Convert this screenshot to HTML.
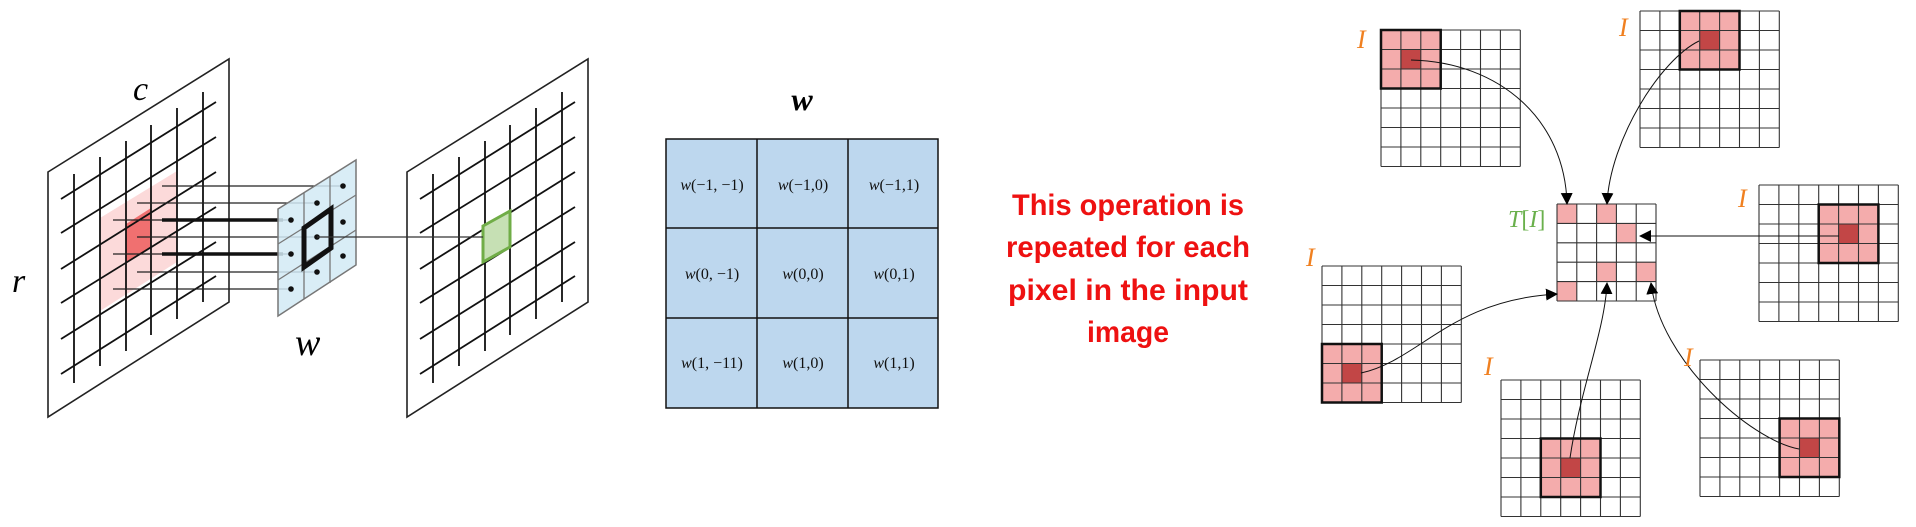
<!DOCTYPE html>
<html><head><meta charset="utf-8"><style>
html,body{margin:0;padding:0;background:#fff;width:1916px;height:527px;overflow:hidden}
svg{display:block}
</style></head><body>
<svg id="s" width="1916" height="527" viewBox="0 0 1916 527" xmlns="http://www.w3.org/2000/svg">
<defs><marker id="ah" markerWidth="12" markerHeight="12" refX="11" refY="6" orient="auto" markerUnits="userSpaceOnUse"><path d="M0,0 L12,6 L0,12 z" fill="#000"/></marker></defs>
<g id="g"></g>
<text x="133" y="100" font-family="Liberation Serif, serif" font-style="italic" font-size="34">c</text>
<text x="12" y="292" font-family="Liberation Serif, serif" font-style="italic" font-size="34">r</text>
<text x="295" y="355" font-family="Liberation Serif, serif" font-style="italic" font-size="38">w</text>
<text x="802" y="110" text-anchor="middle" font-family="Liberation Serif, serif" font-style="italic" font-weight="bold" font-size="32">w</text>
<g font-family="Liberation Sans Narrow, Liberation Sans, sans-serif" font-weight="bold" font-size="30" fill="#ee1111" text-anchor="middle">
<text x="1128" y="215" textLength="232" lengthAdjust="spacingAndGlyphs">This operation is</text>
<text x="1128" y="257" textLength="244" lengthAdjust="spacingAndGlyphs">repeated for each</text>
<text x="1128" y="300" textLength="240" lengthAdjust="spacingAndGlyphs">pixel in the input</text>
<text x="1128" y="342" textLength="82" lengthAdjust="spacingAndGlyphs">image</text>
</g>
<g font-family="Liberation Serif, serif" font-style="italic" font-size="26" fill="#f08020">
<text x="1357" y="48">I</text><text x="1619" y="36">I</text><text x="1738" y="207">I</text>
<text x="1306" y="266">I</text><text x="1484" y="375">I</text><text x="1684" y="366">I</text>
</g>
<text x="1508" y="227" font-family="Liberation Serif, serif" font-size="24" fill="#6ab04c"><tspan font-style="italic">T</tspan>[<tspan font-style="italic">I</tspan>]</text>
</svg>
<script>
var g=document.getElementById('g'),NS='http://www.w3.org/2000/svg';
function el(t,a){var e=document.createElementNS(NS,t);for(var k in a)e.setAttribute(k,a[k]);g.appendChild(e);return e;}
function line(x1,y1,x2,y2,c,w){el('line',{x1:x1,y1:y1,x2:x2,y2:y2,stroke:c||'#111',"stroke-width":w||1.6});}
function poly(p,f,s,w){el('polygon',{points:p,fill:f||'none',stroke:s||'none',"stroke-width":w||1.5});}
function plane(ox,pink){
 poly((48+ox)+',172 '+(229+ox)+',59 '+(229+ox)+',302 '+(48+ox)+',417','#fff','#222',1.6);
 if(pink){
  poly('100,218 177,171 177,262 100,311','#fcdada');
  poly('126,224 151,208 151,247 126,263','#f07070');
 }
 var vx=[74,100,126,151,177,203],vt=[174,157,141,125,108,92],vb=[383,366,351,335,319,302];
 for(var i=0;i<6;i++)line(vx[i]+ox,vt[i],vx[i]+ox,vb[i],'#111',1.8);
 var ys=[199,233,269,303,339,374],ye=[102,137,172,207,242,276];
 for(var i=0;i<6;i++)line(61+ox,ys[i],216+ox,ye[i],'#111',1.8);
}
plane(0,true);plane(359,false);
poly('483,226 510,211 510,247 483,262','#c6e0b4','#70ad47',3);
var ly=[186,203,220,237,254,272,289],lx=[162,137,113,137,113,137,113],le=[343,317,291,317,291,317,291];
for(var i=0;i<7;i++)line(lx[i],ly[i],le[i],ly[i],'#222',1.3);
line(162,220,283,220,'#111',3.5);line(162,254,283,254,'#111',3.5);
poly('278,209 356,160 356,265 278,316','rgba(210,234,245,0.85)','#777',1.5);
line(304,193,304,299,'#777',1.3);line(330,177,330,283,'#777',1.3);
line(278,244,356,195,'#777',1.3);line(278,280,356,230,'#777',1.3);
var dots=[[291,220],[317,203],[343,186],[291,254],[317,237],[343,222],[291,289],[317,272],[343,256]];
dots.forEach(function(d){el('circle',{cx:d[0],cy:d[1],r:2.8,fill:'#111'});});
poly('304,228 331,209 331,248 304,267','none','#111',5);
line(317,237,483,237,'#333',1.2);
el('rect',{x:666,y:139,width:272,height:269,fill:'#bdd7ee',stroke:'#111','stroke-width':1.5});
line(757,139,757,408,'#111',1.5);line(848,139,848,408,'#111',1.5);
line(666,228,938,228,'#111',1.5);line(666,318,938,318,'#111',1.5);
var lab=[['(−1, −1)','(−1,0)','(−1,1)'],['(0, −1)','(0,0)','(0,1)'],['(1, −11)','(1,0)','(1,1)']];
for(var r=0;r<3;r++)for(var c=0;c<3;c++){var t=el('text',{x:712+c*91,y:190+r*89,'text-anchor':'middle','font-family':'Liberation Serif, serif','font-size':'16',fill:'#111'});
 var a=document.createElementNS(NS,'tspan');a.setAttribute('font-style','italic');a.textContent='w';t.appendChild(a);t.appendChild(document.createTextNode(lab[r][c]));}
function grid(x0,y0,n,cw,ch,hc,hr,rc,rr,pinks){
 el('rect',{x:x0,y:y0,width:n*cw,height:n*ch,fill:'#fff'});
 if(hc!=null){el('rect',{x:x0+hc*cw,y:y0+hr*ch,width:3*cw,height:3*ch,fill:'#f4acac'});
  el('rect',{x:x0+rc*cw,y:y0+rr*ch,width:cw,height:ch,fill:'#c24646'});}
 (pinks||[]).forEach(function(p){el('rect',{x:x0+p[0]*cw,y:y0+p[1]*ch,width:cw,height:ch,fill:'#f4acac'});});
 for(var i=0;i<=n;i++){line(x0+i*cw,y0,x0+i*cw,y0+n*ch,'#333',1.1);line(x0,y0+i*ch,x0+n*cw,y0+i*ch,'#333',1.1);}
 if(hc!=null)el('rect',{x:x0+hc*cw,y:y0+hr*ch,width:3*cw,height:3*ch,fill:'none',stroke:'#111','stroke-width':2.5});
}
var cw=19.9,ch=19.5;
grid(1381,30,7,cw,ch,0,0,1,1);
grid(1640,11,7,cw,ch,2,0,3,1);
grid(1759,185,7,cw,ch,3,1,4,2);
grid(1322,266,7,cw,ch,0,4,1,5);
grid(1501,380,7,cw,ch,2,3,3,4);
grid(1700,360,7,cw,ch,4,3,5,4);
grid(1557,204,5,19.8,19.4,null,null,null,null,[[0,0],[2,0],[3,1],[2,3],[4,3],[0,4]]);
function arr(d){el('path',{d:d,fill:'none',stroke:'#111','stroke-width':1,'marker-end':'url(#ah)'});}
arr('M1411,60 C1500,62 1565,120 1567,204');
arr('M1699,41 C1660,60 1610,140 1607,204');
arr('M1839,236 L1640,236');
arr('M1361,373 C1420,360 1450,300 1557,294');
arr('M1570,458 C1580,390 1605,330 1607,283');
arr('M1799,449 C1750,440 1660,360 1651,283');
</script>
</body></html>
